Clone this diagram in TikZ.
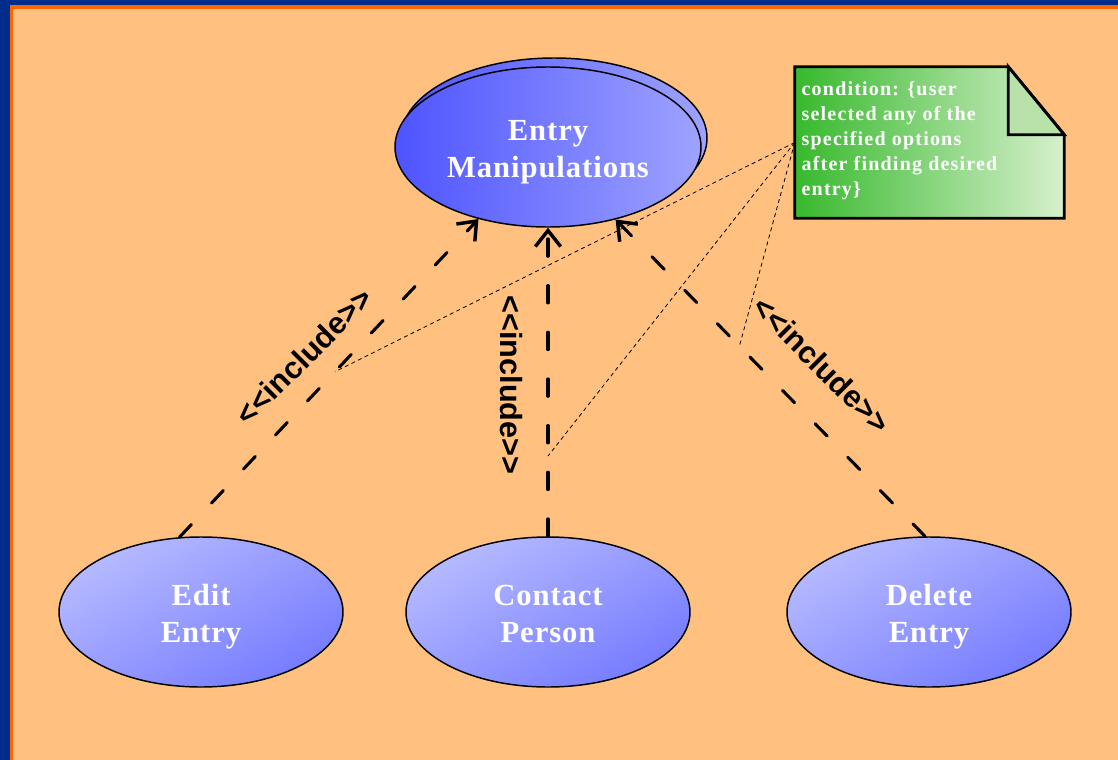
\documentclass[tikz,border=0pt]{standalone}
\usepackage{fontspec}
\setmainfont{Liberation Serif}
\newfontfamily\incfont{Liberation Sans}
\newfontfamily\ucfont[LetterSpace=3]{Liberation Serif}
\newfontfamily\notefont[LetterSpace=6]{Liberation Serif}
\usetikzlibrary{shapes.geometric,arrows.meta}
\definecolor{bgblue}{RGB}{0,45,140}
\definecolor{bgorange}{RGB}{255,102,0}
\definecolor{peach}{RGB}{255,192,128}
\definecolor{mainleft}{RGB}{78,84,255}
\definecolor{mainright}{RGB}{158,162,255}
\definecolor{uclight}{RGB}{182,186,255}
\definecolor{ucdark}{RGB}{118,124,255}
\definecolor{notegreen}{RGB}{55,185,45}
\definecolor{notepale}{RGB}{215,240,205}
\definecolor{foldgreen}{RGB}{185,225,170}
\newcommand\uclines[2]{\rule{0pt}{23.5pt}#1\\#2\rule[-6pt]{0pt}{6pt}}
\begin{document}
\begin{tikzpicture}[x=0.75pt,y=-0.75pt,
  ucmain/.style={ellipse, draw=black, line width=1.1pt, minimum width=229.5pt, minimum height=120pt, inner sep=0pt,
    left color=mainleft, right color=mainright},
  ucsub/.style={ellipse, draw=black, line width=1.1pt, minimum width=213pt, minimum height=112.5pt, inner sep=0pt,
    top color=uclight, bottom color=ucdark, shading angle=30},
  uctext/.style={text=white, align=center, font=\ucfont\bfseries\fontsize{23}{27.75}\selectfont},
  conn/.style={line width=2.3pt, line cap=round, dash pattern=on 13pt off 22pt,
    -{Straight Barb[length=12pt,width=19pt,line width=2.6pt]}},
  cline/.style={line width=0.6pt, dash pattern=on 3pt off 2.5pt},
  inclabel/.style={font=\incfont\bfseries\fontsize{23}{26}\selectfont, inner sep=0pt}
]
\fill[bgblue] (0,0) rectangle (1118,760);
\fill[bgorange] (10,5) rectangle (1118,760);
\fill[peach] (13,9) rectangle (1118,760);
\useasboundingbox (0,0) rectangle (1118,760);

% top use case (with stacked back ellipse)
\node[ucmain] (manipback) at (554,138) {};
\node[ucmain, uctext] (manip) at (548,147) {\uclines{Entry}{Manipulations}};

% bottom use cases
\node[ucsub, uctext] (edit) at (201,612) {\uclines{Edit}{Entry}};
\node[ucsub, uctext] (contact) at (548,612) {\uclines{Contact}{Person}};
\node[ucsub, uctext] (delete) at (929,612) {\uclines{Delete}{Entry}};

% include connectors
\draw[conn] (edit.106) -- coordinate[pos=0.52] (c1) (manip.226);
\draw[conn] (contact.north) -- coordinate[pos=0.26] (c2) (manip.south);
\draw[conn] (delete.93) -- coordinate[pos=0.60] (c3) (manip.313);

% include labels
\node[inclabel, rotate=45] (inc1) at (304,356) {<<include>>};
\node[inclabel, rotate=-90] (inc2) at (511,385) {<<include>>};
\node[inclabel, rotate=-45] (inc3) at (822,365) {<<include>>};

% note
\node[minimum width=201.75pt, minimum height=113.25pt, inner sep=0pt] (note) at (929.5,142.5) {};
\shade[left color=notegreen, right color=notepale, draw=black, line width=2.2pt, line join=miter]
  (note.north west) -- ([xshift=-42pt]note.north east) -- ([yshift=-51pt]note.north east)
  -- (note.south east) -- (note.south west) -- cycle;
\filldraw[fill=foldgreen, draw=black, line width=2.2pt, line join=miter]
  ([xshift=-42pt]note.north east) -- ([xshift=-42pt,yshift=-51pt]note.north east)
  -- ([yshift=-51pt]note.north east) -- cycle;
\node[anchor=north west, inner sep=0pt, align=left, text=white,
  font=\notefont\bfseries\fontsize{15}{18.75}\selectfont] (notetext) at ([xshift=5pt,yshift=-11pt]note.north west)
  {condition: \{user\\selected any of the\\specified options\\after finding desired\\entry\}};

% constraint lines
\draw[cline] (note.west) -- (c1);
\draw[cline] (note.west) -- (c2);
\draw[cline] (note.west) -- (c3);
\end{tikzpicture}
\end{document}
